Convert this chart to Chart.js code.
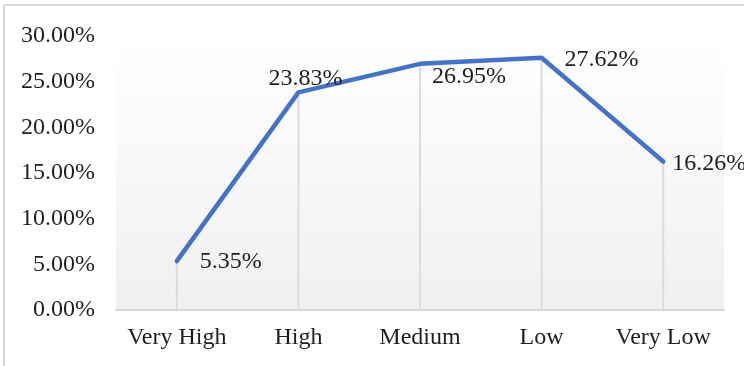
<!DOCTYPE html>
<html>
<head>
<meta charset="utf-8">
<script src="https://cdn.jsdelivr.net/npm/chart.js@4.4.1/dist/chart.umd.min.js"></script>
<style>
    html, body { margin: 0; padding: 0; background: #fff; overflow: hidden; }
    #wrap { position: relative; width: 744px; height: 366px; }
    #frame { position: absolute; left: 3px; top: 4px; width: 900px; height: 500px; border: 2px solid #d9d9d9; }
    #chart { position: absolute; left: 0; top: 0; }
</style>
</head>
<body>
<div id="wrap">
    <div id="frame"></div>
    <canvas id="chart" width="744" height="366"></canvas>
</div>
<script>
const categories = ['Very High', 'High', 'Medium', 'Low', 'Very Low'];
const shares = [5.35, 23.83, 26.95, 27.62, 16.26];
const yTicks = [0, 5, 10, 15, 20, 25, 30];

const serif = '"Liberation Serif", "Times New Roman", serif';
const textColor = '#1e1e1e';
const fontSize = 24;

// plot area shading, white at the top fading to light grey
const plotBackground = {
    id: 'plotBackground',
    beforeDraw(chart){
        const {ctx, chartArea: a} = chart;
        const g = ctx.createLinearGradient(0, a.top, 0, a.bottom);
        g.addColorStop(0, '#ffffff');
        g.addColorStop(0.12, '#fdfdfd');
        g.addColorStop(1, '#f0f0f0');
        ctx.save();
        ctx.fillStyle = g;
        ctx.fillRect(a.left, a.top, a.right - a.left, a.bottom - a.top);
        ctx.restore();
    }
};

// vertical drop lines from each point down to the axis
const dropLines = {
    id: 'dropLines',
    beforeDatasetsDraw(chart){
        const {ctx, chartArea: a} = chart;
        const pts = chart.getDatasetMeta(0).data;
        ctx.save();
        ctx.strokeStyle = '#dcdcdc';
        ctx.lineWidth = 2;
        pts.forEach(p => {
            ctx.beginPath();
            ctx.moveTo(p.x, p.y);
            ctx.lineTo(p.x, a.bottom);
            ctx.stroke();
        });
        ctx.restore();
    }
};

// value labels next to the points
const labelOffsets = [[23, 1], [-30, -14], [12, 13], [23, 2], [9, 2]];
const valueLabels = {
    id: 'valueLabels',
    afterDatasetsDraw(chart){
        const {ctx} = chart;
        const pts = chart.getDatasetMeta(0).data;
        ctx.save();
        ctx.font = fontSize + 'px ' + serif;
        ctx.fillStyle = textColor;
        ctx.textAlign = 'left';
        ctx.textBaseline = 'middle';
        pts.forEach((p, i) => {
            const o = labelOffsets[i];
            ctx.fillText(shares[i].toFixed(2) + '%', p.x + o[0], p.y + o[1]);
        });
        ctx.restore();
    }
};

new Chart(document.getElementById('chart'), {
    type: 'line',
    data: {
        labels: categories,
        datasets: [{
            data: shares,
            borderColor: '#4472c4',
            borderWidth: 4.5,
            borderCapStyle: 'round',
            borderJoinStyle: 'round',
            pointRadius: 0,
            tension: 0,
            fill: false
        }]
    },
    options: {
        responsive: false,
        animation: false,
        layout: { padding: { top: 36, right: 20, left: 0, bottom: 0 } },
        plugins: {
            legend: { display: false },
            tooltip: { enabled: false }
        },
        scales: {
            x: {
                offset: true,
                grid: { display: false, drawTicks: false },
                border: { display: true, color: '#d9d9d9', width: 2 },
                ticks: {
                    padding: 13,
                    color: textColor,
                    font: { family: serif, size: fontSize },
                    maxRotation: 0
                },
                afterFit(scale){ scale.height = 56; }
            },
            y: {
                min: 0,
                max: 30,
                afterBuildTicks(scale){ scale.ticks = yTicks.map(v => ({ value: v })); },
                grid: { display: false, drawTicks: false },
                border: { display: false },
                ticks: {
                    padding: 21,
                    color: textColor,
                    font: { family: serif, size: fontSize },
                    callback: v => v.toFixed(2) + '%'
                },
                afterFit(scale){ scale.width = 116; }
            }
        }
    },
    plugins: [plotBackground, dropLines, valueLabels]
});
</script>
</body>
</html>
